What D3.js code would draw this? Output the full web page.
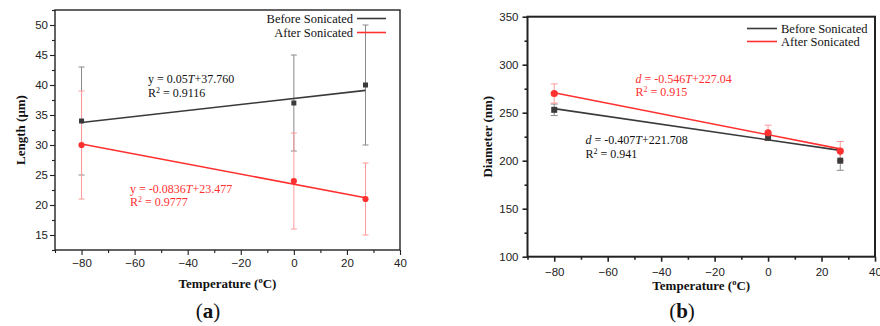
<!DOCTYPE html>
<html><head><meta charset="utf-8">
<script src="https://cdn.jsdelivr.net/npm/d3@7"></script>
<style>body{margin:0;background:#fff}svg{display:block}</style>
</head><body><svg id="c" width="880" height="326"></svg>
<script>
const temps = [-80, 0, 27];
const xTicks = [-80, -60, -40, -20, 0, 20, 40];
const xMinor = [-90, -70, -50, -30, -10, 10, 30];
const lengthTicks = [15, 20, 25, 30, 35, 40, 45, 50];
const lengthMinor = [12.5, 17.5, 22.5, 27.5, 32.5, 37.5, 42.5, 47.5, 52.5];
const diameterTicks = [100, 150, 200, 250, 300, 350];
const diameterMinor = [125, 175, 225, 275, 325];
const lengthBefore = [34, 37, 40], lengthBeforeErr = [9, 8, 10];
const lengthAfter = [30, 24, 21], lengthAfterErr = [9, 8, 6];
const diameterBefore = [253, 224, 200], diameterBeforeErr = [6, 3, 10];
const diameterAfter = [270, 229, 210], diameterAfterErr = [10, 8, 10];
const lengthFitBefore = [0.05, 37.760], lengthFitAfter = [-0.0836, 23.477];
const diameterFitBefore = [-0.407, 221.708], diameterFitAfter = [-0.546, 227.04];
const seriesNames = ["Before Sonicated", "After Sonicated"];

const SERIF = "'Liberation Serif','Times New Roman',serif";
const SANS = "'Liberation Sans',Arial,sans-serif";
const BLACK = "#3a3a3a", RED = "#ff3030", BLACK_ERR = "#8a8a8a", RED_ERR = "#ff9a9a";

const svg = d3.select("#c");
svg.append("rect").attr("width", 880).attr("height", 326).attr("fill", "#fff");

function panel(cfg) {
  const g = svg.append("g");
  const x = d3.scaleLinear().domain([-90, 40]).range([cfg.l, cfg.r]);
  const y = d3.scaleLinear().domain(cfg.yDomain).range([cfg.b, cfg.t]);

  g.append("g").attr("transform", `translate(0,${cfg.b})`)
    .call(d3.axisBottom(x).tickValues(xTicks).tickSize(5).tickPadding(cfg.xPad).tickSizeOuter(0));
  g.append("g").attr("transform", `translate(0,${cfg.b})`)
    .call(d3.axisBottom(x).tickValues(xMinor).tickSize(3).tickFormat("").tickSizeOuter(0));
  g.append("g").attr("transform", `translate(${cfg.l},0)`)
    .call(d3.axisLeft(y).tickValues(cfg.yTicks).tickSize(5).tickPadding(cfg.yPad).tickSizeOuter(0));
  g.append("g").attr("transform", `translate(${cfg.l},0)`)
    .call(d3.axisLeft(y).tickValues(cfg.yMinor).tickSize(3).tickFormat("").tickSizeOuter(0));
  g.selectAll(".domain").remove();
  g.selectAll(".tick line").attr("stroke", "#222").attr("stroke-width", cfg.sw * 0.8);
  g.selectAll(".tick text").attr("font-family", SANS).attr("font-size", 11.5).attr("fill", "#222");

  g.append("rect").attr("x", cfg.l).attr("y", cfg.t).attr("width", cfg.r - cfg.l).attr("height", cfg.b - cfg.t)
    .attr("fill", "none").attr("stroke", "#222").attr("stroke-width", cfg.sw);

  const series = [
    {v: cfg.before, e: cfg.beforeErr, fit: cfg.fitBefore, c: BLACK, ec: BLACK_ERR, m: "square"},
    {v: cfg.after, e: cfg.afterErr, fit: cfg.fitAfter, c: RED, ec: RED_ERR, m: "circle"}
  ];
  series.forEach(s => {
    const eg = g.append("g").attr("stroke", s.ec).attr("stroke-width", 1);
    temps.forEach((t, i) => {
      const cx = x(t), y1 = y(s.v[i] + s.e[i]), y2 = y(s.v[i] - s.e[i]);
      eg.append("line").attr("x1", cx).attr("x2", cx).attr("y1", y1).attr("y2", y2);
      eg.append("line").attr("x1", cx - cfg.cap).attr("x2", cx + cfg.cap).attr("y1", y1).attr("y2", y1);
      eg.append("line").attr("x1", cx - cfg.cap).attr("x2", cx + cfg.cap).attr("y1", y2).attr("y2", y2);
    });
  });
  series.forEach(s => {
    const t0 = temps[0], t1 = temps[temps.length - 1];
    g.append("line").attr("x1", x(t0)).attr("x2", x(t1))
      .attr("y1", y(s.fit[0] * t0 + s.fit[1])).attr("y2", y(s.fit[0] * t1 + s.fit[1]))
      .attr("stroke", s.c).attr("stroke-width", 1.6);
  });
  series.forEach(s => {
    temps.forEach((t, i) => {
      if (s.m === "square") {
        g.append("rect").attr("x", x(t) - cfg.ms / 2).attr("y", y(s.v[i]) - cfg.ms / 2)
          .attr("width", cfg.ms).attr("height", cfg.ms).attr("fill", s.c);
      } else {
        g.append("circle").attr("cx", x(t)).attr("cy", y(s.v[i])).attr("r", cfg.ms / 2 + 0.6).attr("fill", s.c);
      }
    });
  });

  const tx = g.append("text").attr("x", (cfg.l + cfg.r) / 2).attr("y", cfg.xTitleY)
    .attr("text-anchor", "middle").attr("font-family", SERIF).attr("font-weight", "bold").attr("font-size", 13).attr("fill", "#111");
  tx.append("tspan").text("Temperature (");
  tx.append("tspan").attr("font-size", 8.5).attr("dy", -5).text("o");
  tx.append("tspan").attr("dy", 5).text("C)");
  g.append("text").attr("transform", `translate(${cfg.yTitleX},${(cfg.t + cfg.b) / 2}) rotate(-90)`)
    .attr("text-anchor", "middle").attr("dy", "0.35em").attr("font-family", SERIF).attr("font-weight", "bold")
    .attr("font-size", 13).attr("fill", "#111").text(cfg.yTitle);

  const pl = g.append("text").attr("x", cfg.labelX).attr("y", cfg.labelY).attr("text-anchor", "middle")
    .attr("font-family", SERIF).attr("font-size", 21).attr("fill", "#111");
  pl.append("tspan").text("(");
  pl.append("tspan").attr("font-weight", "bold").text(cfg.label);
  pl.append("tspan").text(")");

  cfg.legend.forEach((L, i) => {
    const col = i === 0 ? BLACK : RED;
    g.append("line").attr("x1", L.lx1).attr("x2", L.lx2).attr("y1", L.ly).attr("y2", L.ly)
      .attr("stroke", col).attr("stroke-width", 1.6);
    g.append("text").attr("x", L.tx).attr("y", L.ly).attr("dy", "0.32em").attr("text-anchor", L.anchor)
      .attr("font-family", SERIF).attr("font-size", 12.5).attr("fill", "#111").text(seriesNames[i]);
  });

  cfg.eqs.forEach(E => {
    const t1 = g.append("text").attr("x", E.x).attr("y", E.y).attr("dy", "0.35em")
      .attr("font-family", SERIF).attr("font-size", 12).attr("fill", E.c);
    t1.append("tspan").attr("font-style", E.v === "d" ? "italic" : "normal").text(E.v);
    t1.append("tspan").text(" = " + E.fit[0] + "");
    t1.append("tspan").attr("font-style", "italic").text("T");
    t1.append("tspan").text("+" + E.fitText);
    const t2 = g.append("text").attr("x", E.x).attr("y", E.y + 13.5).attr("dy", "0.35em")
      .attr("font-family", SERIF).attr("font-size", 12).attr("fill", E.c);
    t2.append("tspan").text("R");
    t2.append("tspan").attr("font-size", 8).attr("dy", -4).text("2");
    t2.append("tspan").attr("dy", 4).text(" = " + E.r2);
  });
}

panel({
  l: 55, r: 400, t: 10, b: 250, sw: 1.4,
  yDomain: [12.5, 52.5], yTicks: lengthTicks, yMinor: lengthMinor,
  xPad: 4, yPad: 2, cap: 3, ms: 5,
  before: lengthBefore, beforeErr: lengthBeforeErr, after: lengthAfter, afterErr: lengthAfterErr,
  fitBefore: lengthFitBefore, fitAfter: lengthFitAfter,
  xTitleY: 288, yTitleX: 20, yTitle: "Length (\u03bcm)",
  label: "a", labelX: 208, labelY: 318,
  legend: [
    {lx1: 357, lx2: 386, ly: 18.5, tx: 353, anchor: "end"},
    {lx1: 357, lx2: 386, ly: 32.5, tx: 353, anchor: "end"}
  ],
  eqs: [
    {x: 148, y: 79, c: "#111", v: "y", fit: lengthFitBefore, fitText: "37.760", r2: "0.9116"},
    {x: 130, y: 188.5, c: RED, v: "y", fit: lengthFitAfter, fitText: "23.477", r2: "0.9777"}
  ]
});

panel({
  l: 527.5, r: 875, t: 16.7, b: 256.7, sw: 2,
  yDomain: [100, 350], yTicks: diameterTicks, yMinor: diameterMinor,
  xPad: 6, yPad: 4, cap: 3.5, ms: 6,
  before: diameterBefore, beforeErr: diameterBeforeErr, after: diameterAfter, afterErr: diameterAfterErr,
  fitBefore: diameterFitBefore, fitAfter: diameterFitAfter,
  xTitleY: 290, yTitleX: 487, yTitle: "Diameter (nm)",
  label: "b", labelX: 682, labelY: 318,
  legend: [
    {lx1: 747, lx2: 777, ly: 28.5, tx: 781, anchor: "start"},
    {lx1: 747, lx2: 777, ly: 41.5, tx: 781, anchor: "start"}
  ],
  eqs: [
    {x: 635.5, y: 78.5, c: RED, v: "d", fit: diameterFitAfter, fitText: "227.04", r2: "0.915"},
    {x: 585.5, y: 140, c: "#111", v: "d", fit: diameterFitBefore, fitText: "221.708", r2: "0.941"}
  ]
});
</script></body></html>
